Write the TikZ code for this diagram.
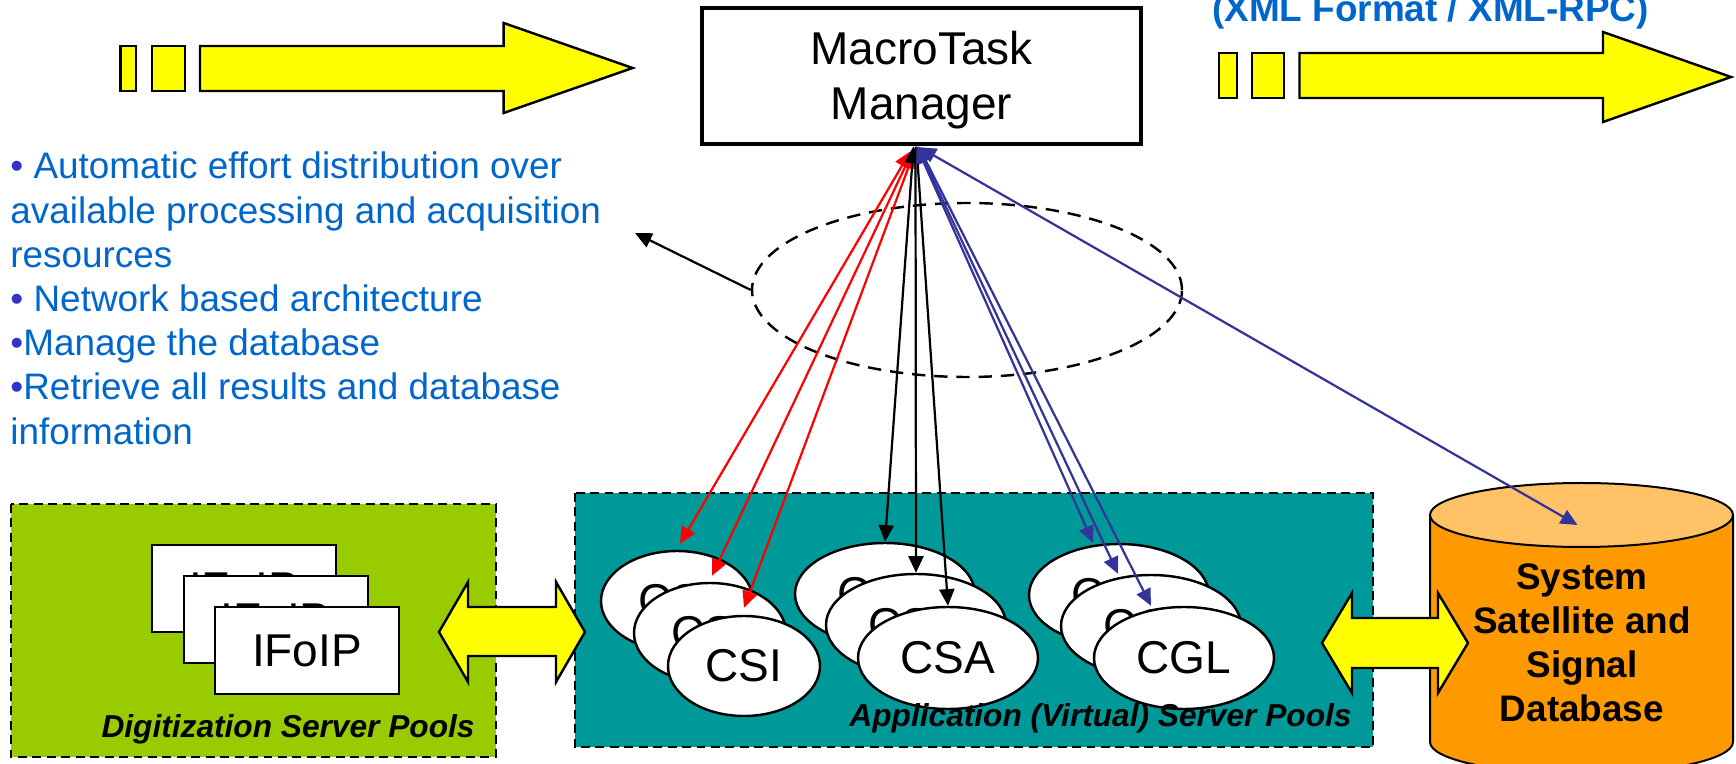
\documentclass[tikz,border=0pt]{standalone}
\usepackage{fontspec}
\setmainfont{Liberation Sans}
\usetikzlibrary{arrows.meta,shapes.geometric,calc}
\definecolor{yel}{HTML}{FFFF00}
\definecolor{poolgreen}{HTML}{99CC00}
\definecolor{poolteal}{HTML}{009999}
\definecolor{dborange}{HTML}{FF9900}
\definecolor{dbtopc}{HTML}{FFC266}
\definecolor{tblue}{HTML}{0066CC}
\definecolor{bul}{HTML}{3333CC}
\definecolor{lblue}{HTML}{333399}
\definecolor{lred}{HTML}{FF0000}
\begin{document}
\begin{tikzpicture}[x=0.45pt,y=-0.45pt,
  yarrow/.style={fill=yel,draw=black,line width=1.1pt,line join=miter},
  pool/.style={draw=black,line width=0.9pt,dash pattern=on 4pt off 2.5pt},
  ifbox/.style={draw=black,fill=white,line width=0.9pt,minimum width=82.8pt,minimum height=39.15pt,inner sep=0pt,font=\fontsize{20.7}{24}\selectfont},
  srvS/.style={ellipse,draw=black,fill=white,line width=1.1pt,minimum width=68.4pt,minimum height=45pt,inner sep=0pt,font=\fontsize{20.7}{24}\selectfont},
  srvL/.style={ellipse,draw=black,fill=white,line width=1.1pt,minimum width=81pt,minimum height=45.9pt,inner sep=0pt,font=\fontsize{20.7}{24}\selectfont},
  link/.style={line width=1pt,{Triangle[length=7.5pt,width=6.8pt]}-{Triangle[length=7.5pt,width=6.8pt]}},
  txt/.style={anchor=base west,inner sep=0pt,text=tblue,font=\fontsize{16.6}{20}\selectfont},
  poollabel/.style={anchor=base east,inner sep=0pt,font=\bfseries\itshape\fontsize{14.25}{17}\selectfont}
]
\useasboundingbox (0,0) rectangle (1736,764);
\clip (0,0) rectangle (1736,764);

% pools
\draw[pool,fill=poolgreen] (11,504) rectangle (496,757);
\draw[pool,fill=poolteal] (575,493) rectangle (1373,747);

% IFoIP stack
\node[ifbox] (if1) at (244,588.5) {IFoIP};
\node[ifbox] (if2) at (275.5,620) {IFoIP};
\node[ifbox] (if3) at (307,651) {IFoIP};

% server ellipses
\node[srvS] (csi1) at (677,601) {CSI};
\node[srvS] (csi2) at (710,633) {CSI};
\node[srvS] (csi3) at (744,666) {CSI};
\node[srvL] (csa1) at (885,594) {CSA};
\node[srvL] (csa2) at (916,625) {CSA};
\node[srvL] (csa3) at (948,658) {CSA};
\node[srvL] (cgl1) at (1119,595) {CGL};
\node[srvL] (cgl2) at (1151,626) {CGL};
\node[srvL] (cgl3) at (1184,658) {CGL};

\node[poollabel] (dlab) at (475,738) {Digitization Server Pools};
\node[poollabel] (alab) at (1352,727) {Application (Virtual) Server Pools};

% database cylinder
\filldraw[fill=dborange,draw=black,line width=0.9pt] (1430,515) -- (1430,742) arc[start angle=180,end angle=0,x radius=151.5,y radius=32] -- (1733,515);
\filldraw[fill=dbtopc,draw=black,line width=0.9pt] (1581.5,515) ellipse[x radius=151.5,y radius=32];
\coordinate (dbtop) at (1581.5,515);
\node[align=center,inner sep=0pt,font=\bfseries\fontsize{16.6}{19.8}\selectfont] (db) at (1582,643) {System\\Satellite and\\Signal\\Database};

% double arrows
\draw[yarrow] (439,632) -- (468,582) -- (468,607) -- (556,607) -- (556,582) -- (585,632) -- (556,682) -- (556,656) -- (468,656) -- (468,682) -- cycle;
\draw[yarrow] (1322,643) -- (1352,593) -- (1352,618) -- (1438,618) -- (1438,593) -- (1468,643) -- (1438,693) -- (1438,668) -- (1352,668) -- (1352,693) -- cycle;

% manager
\node[draw=black,fill=white,line width=2pt,minimum width=197.55pt,minimum height=61.2pt,inner sep=0pt] (mgr) at (921.5,76) {};
\node[inner sep=0pt,align=center,font=\fontsize{20.7}{24.75}\selectfont] (mgrlabel) at ($(mgr.center)+(0,4.5)$) {MacroTask\\Manager};
\coordinate (apex) at ($(mgr.south)+(-6,0)$);

% group ellipse and note arrow
\node[ellipse,draw=black,line width=1.1pt,dash pattern=on 6pt off 4pt,minimum width=193.5pt,minimum height=78.3pt,inner sep=0pt] (grp) at (967,290) {};
\coordinate (ptr) at (635,233);
\draw[line width=1pt,-{Triangle[length=7.5pt,width=6.8pt]}] (grp.west) -- (ptr);

% links
\draw[link,lred] ($(apex)+(-5,5)$) -- ($(csi1.north)+(3,-6)$);
\draw[link,lred] ($(apex)+(-3,5)$) -- ($(csi2.north)+(2,-6)$);
\draw[link,lred] ($(apex)+(-1,5)$) -- ($(csi3.north)+(0,-7)$);
\draw[link,black] ($(apex)+(-2,0)$) -- (csa1.north);
\draw[link,black] ($(apex)+(0,0)$) -- (csa2.north);
\draw[link,black] ($(apex)+(1,0)$) -- (csa3.north);
\draw[link,lblue] ($(apex)+(1,0)$) -- ($(cgl1.north)+(-26,0)$);
\draw[link,lblue] ($(apex)+(2,0)$) -- ($(cgl2.north)+(-33,0)$);
\draw[link,lblue] ($(apex)+(3,0)$) -- ($(cgl3.north)+(-33,0)$);
\draw[link,lblue] ($(apex)+(4,1)$) -- ($(dbtop)+(-4,10)$);

% top arrows
\draw[yarrow] (120.5,46) rectangle (136,91);
\draw[yarrow] (152,46) rectangle (185,91);
\draw[yarrow] (200,46) -- (503.6,46) -- (503.6,23) -- (632.6,68) -- (503.6,113) -- (503.6,91) -- (200,91) -- cycle;
\draw[yarrow] (1219,53) rectangle (1237,98);
\draw[yarrow] (1252,53) rectangle (1284,98);
\draw[yarrow] (1299.5,53) -- (1603,53) -- (1603,32) -- (1731,77) -- (1603,122) -- (1603,98) -- (1299.5,98) -- cycle;
\node[anchor=base,inner sep=0pt,text=tblue,font=\bfseries\fontsize{16.6}{20}\selectfont] (xml) at (1430.5,22) {(XML Format / XML-RPC)};

% bullet text
\node[txt] (l1) at (10,179) {{\color{bul}•} Automatic effort distribution over};
\node[txt] (l2) at (10,223.2) {available processing and acquisition};
\node[txt] (l3) at (10,267.4) {resources};
\node[txt] (l4) at (10,311.6) {{\color{bul}•} Network based architecture};
\node[txt] (l5) at (10,355.8) {{\color{bul}•}Manage the database};
\node[txt] (l6) at (10,400) {{\color{bul}•}Retrieve all results and database};
\node[txt] (l7) at (10,444.2) {information};
\end{tikzpicture}
\end{document}
